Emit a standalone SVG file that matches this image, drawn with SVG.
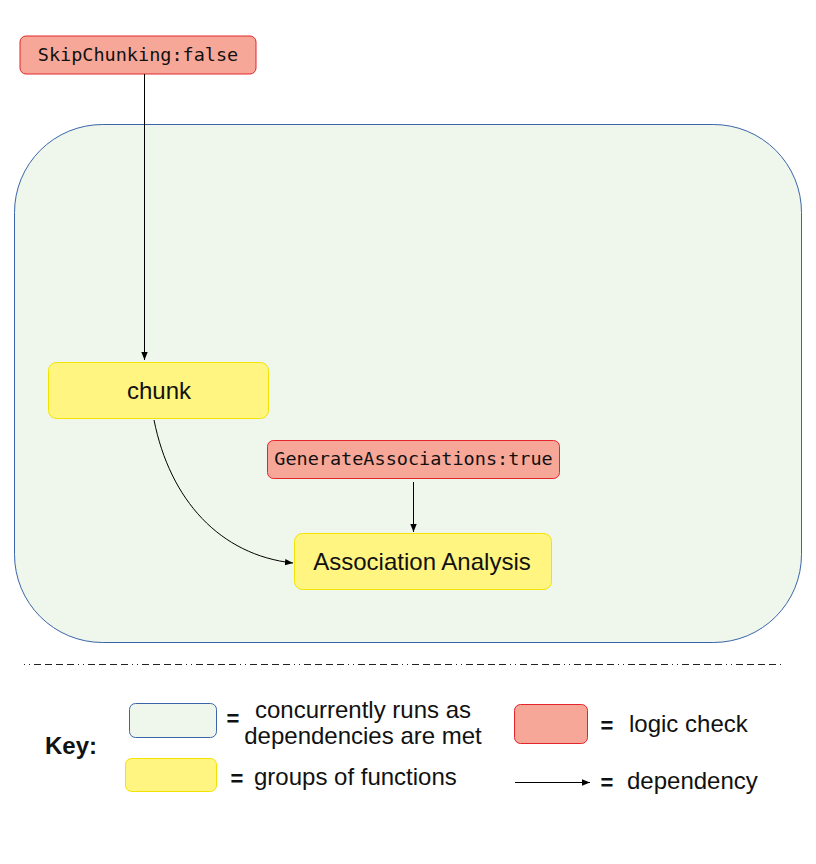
<svg xmlns="http://www.w3.org/2000/svg" width="816" height="864" viewBox="0 0 816 864">
<defs>
<marker id="ah" viewBox="0 0 10 10" refX="10" refY="5" markerWidth="8" markerHeight="8" markerUnits="userSpaceOnUse" orient="auto">
<path d="M0,1 L10,5 L0,9 z" fill="#000"/>
</marker>
<style>
.grp{fill:#eff6eb;stroke:#3a65a8;stroke-width:1}
.fn{fill:#fff580;stroke:#f2e400;stroke-width:1}
.chk{fill:#f7a797;stroke:#e3242b;stroke-width:1}
.mono{font-family:"DejaVu Sans Mono",monospace;font-size:18.5px;fill:#111}
.lbl{font-family:"Liberation Sans",Arial,sans-serif;fill:#111;font-size:24px}
.eq{font-family:"Liberation Sans",Arial,sans-serif;fill:#111;font-size:22px;font-weight:bold}
.edge{fill:none;stroke:#000;stroke-width:1}
</style>
</defs>
<rect width="816" height="864" fill="#fff"/>
<g id="container">
<rect class="grp" x="14.5" y="124.5" width="787" height="518" rx="88" ry="88"/>
</g>
<g id="skipchunking">
<rect class="chk" x="20" y="36" width="236" height="38" rx="6"/>
<text class="mono" x="138" y="61" text-anchor="middle">SkipChunking:false</text>
</g>
<g id="chunk">
<rect class="fn" x="48.5" y="362.5" width="220" height="56" rx="8"/>
<text class="lbl" x="159" y="399" text-anchor="middle">chunk</text>
</g>
<g id="generateassociations">
<rect class="chk" x="267.5" y="440.5" width="292" height="38" rx="6"/>
<text class="mono" x="413.5" y="465" text-anchor="middle">GenerateAssociations:true</text>
</g>
<g id="association">
<rect class="fn" x="294.5" y="533.5" width="257" height="56" rx="8"/>
<text class="lbl" x="422" y="570" text-anchor="middle">Association Analysis</text>
</g>
<g id="connectors">
<line class="edge" x1="144.5" y1="74" x2="144.5" y2="360" marker-end="url(#ah)"/>
<line class="edge" x1="413.5" y1="482" x2="413.5" y2="532" marker-end="url(#ah)"/>
<path class="edge" d="M154,420 C170,500 220,555 293,563" marker-end="url(#ah)"/>
</g>
<line x1="24" y1="664.5" x2="784" y2="664.5" stroke="#222" stroke-width="1" stroke-dasharray="1 4 1 4 7 4 7 4 7 4 7 4"/>
<g id="key">
<text class="lbl" x="45" y="754" font-size="23" font-weight="bold">Key:</text>
<rect class="grp" x="129.5" y="703.5" width="87" height="34" rx="6"/>
<text class="eq" x="233" y="726" text-anchor="middle">=</text>
<text class="lbl" x="363" y="718" text-anchor="middle">concurrently runs as</text>
<text class="lbl" x="363" y="744" text-anchor="middle">dependencies are met</text>
<rect class="fn" x="125.5" y="758.5" width="91" height="33" rx="6"/>
<text class="eq" x="237" y="786" text-anchor="middle">=</text>
<text class="lbl" x="254" y="785">groups of functions</text>
<rect class="chk" x="514.5" y="704.5" width="73" height="39" rx="6"/>
<text class="eq" x="607" y="733" text-anchor="middle">=</text>
<text class="lbl" x="629" y="732">logic check</text>
<line class="edge" x1="515" y1="782.5" x2="590" y2="782.5" marker-end="url(#ah)"/>
<text class="eq" x="607" y="790" text-anchor="middle">=</text>
<text class="lbl" x="627" y="789">dependency</text>
</g>
</svg>
